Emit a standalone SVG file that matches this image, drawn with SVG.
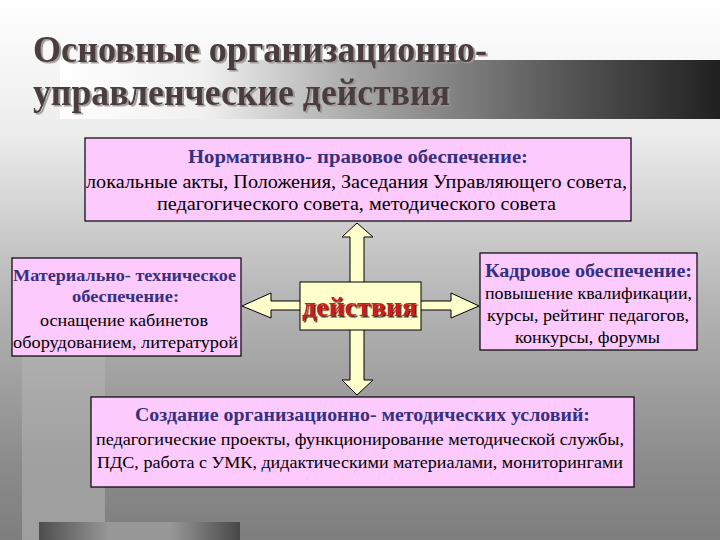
<svg xmlns="http://www.w3.org/2000/svg" width="720" height="540" viewBox="0 0 720 540">
<defs>
<linearGradient id="bg" x1="0" y1="0" x2="0" y2="1">
<stop offset="0" stop-color="#ffffff"/>
<stop offset="0.25" stop-color="#ececec"/>
<stop offset="0.55" stop-color="#b6b6b6"/>
<stop offset="0.85" stop-color="#8c8c8c"/>
<stop offset="1" stop-color="#7e7e7e"/>
</linearGradient>
<linearGradient id="band" x1="0" y1="0" x2="1" y2="0">
<stop offset="0" stop-color="#ffffff"/>
<stop offset="0.22" stop-color="#f0f0f0"/>
<stop offset="0.45" stop-color="#a8a8a8"/>
<stop offset="0.75" stop-color="#5a5a5a"/>
<stop offset="1" stop-color="#202020"/>
</linearGradient>
<linearGradient id="stripe" x1="0" y1="0" x2="0" y2="1">
<stop offset="0" stop-color="#ffffff" stop-opacity="0"/>
<stop offset="1" stop-color="#ffffff" stop-opacity="0.25"/>
</linearGradient>
<linearGradient id="bar" x1="0" y1="0" x2="1" y2="0">
<stop offset="0" stop-color="#4e4e4e"/>
<stop offset="0.35" stop-color="#989898"/>
<stop offset="0.65" stop-color="#989898"/>
<stop offset="1" stop-color="#484848"/>
</linearGradient>
<filter id="tsh" x="-5%" y="-20%" width="110%" height="150%">
<feDropShadow dx="2" dy="1.5" stdDeviation="0.6" flood-color="#9a9292" flood-opacity="0.9"/>
</filter>
<filter id="rsh" x="-5%" y="-20%" width="110%" height="150%">
<feDropShadow dx="1.5" dy="1.5" stdDeviation="0.3" flood-color="#3a1010" flood-opacity="0.9"/>
</filter>
</defs>
<rect x="0" y="0" width="720" height="540" fill="url(#bg)"/>
<rect x="22" y="240" width="83" height="300" fill="url(#stripe)"/>
<rect x="60" y="60" width="660" height="59" fill="url(#band)"/>
<rect x="39" y="522" width="201" height="18" fill="url(#bar)"/>
<g id="title" font-weight="bold" font-size="37" filter="url(#tsh)" fill="#4a3d3d">
<text x="33" y="62" font-family="Liberation Serif" textLength="454" lengthAdjust="spacingAndGlyphs">Основные организационно-</text>
<text x="33" y="105" font-family="Liberation Serif" textLength="417" lengthAdjust="spacingAndGlyphs">управленческие действия</text>
</g>
<g id="connectors">
<path d="M357,223 L373,237 L364,237 L364,301 L451,301 L451,293 L479,306 L451,318 L451,310 L364,310 L364,380 L373,380 L357,395 L342,380 L350,380 L350,310 L271,310 L271,318 L242,306 L271,293 L271,301 L350,301 L350,237 L342,237 Z" fill="#ffffcc" stroke="#000" stroke-width="1"/>
</g>
<g id="node-top">
<rect x="85" y="138" width="546" height="83" fill="#fdcafd" stroke="#000" stroke-width="1.2"/>
<text x="188" y="163" font-size="18" font-weight="bold" fill="#36307f" font-family="Liberation Serif" textLength="340" lengthAdjust="spacingAndGlyphs">Нормативно- правовое обеспечение:</text>
<text x="86" y="188" font-size="18" fill="#000" font-family="Liberation Serif" textLength="541" lengthAdjust="spacingAndGlyphs">локальные акты, Положения, Заседания Управляющего совета,</text>
<text x="157" y="210" font-size="18" fill="#000" font-family="Liberation Serif" textLength="399" lengthAdjust="spacingAndGlyphs">педагогического совета, методического совета</text>
</g>
<g id="node-left">
<rect x="12" y="258" width="229" height="98" fill="#fdcafd" stroke="#000" stroke-width="1.2"/>
<text x="13" y="281" font-size="17" font-weight="bold" fill="#36307f" font-family="Liberation Serif" textLength="223" lengthAdjust="spacingAndGlyphs">Материально- техническое</text>
<text x="72" y="302" font-size="17" font-weight="bold" fill="#36307f" font-family="Liberation Serif" textLength="107" lengthAdjust="spacingAndGlyphs">обеспечение:</text>
<text x="40" y="326" font-size="17" fill="#000" font-family="Liberation Serif" textLength="168" lengthAdjust="spacingAndGlyphs">оснащение кабинетов</text>
<text x="13" y="348" font-size="17" fill="#000" font-family="Liberation Serif" textLength="225" lengthAdjust="spacingAndGlyphs">оборудованием, литературой</text>
</g>
<g id="node-right">
<rect x="480" y="253" width="217" height="97" fill="#fdcafd" stroke="#000" stroke-width="1.2"/>
<text x="485" y="277" font-size="18" font-weight="bold" fill="#36307f" font-family="Liberation Serif" textLength="207" lengthAdjust="spacingAndGlyphs">Кадровое обеспечение:</text>
<text x="485" y="299" font-size="17" fill="#000" font-family="Liberation Serif" textLength="207" lengthAdjust="spacingAndGlyphs">повышение квалификации,</text>
<text x="487" y="321" font-size="17" fill="#000" font-family="Liberation Serif" textLength="202" lengthAdjust="spacingAndGlyphs">курсы, рейтинг педагогов,</text>
<text x="515" y="343" font-size="17" fill="#000" font-family="Liberation Serif" textLength="145" lengthAdjust="spacingAndGlyphs">конкурсы, форумы</text>
</g>
<g id="node-bottom">
<rect x="91" y="397" width="543" height="90" fill="#fdcafd" stroke="#000" stroke-width="1.2"/>
<text x="135" y="421" font-size="18" font-weight="bold" fill="#36307f" font-family="Liberation Serif" textLength="455" lengthAdjust="spacingAndGlyphs">Создание организационно- методических условий:</text>
<text x="96" y="445" font-size="17" fill="#000" font-family="Liberation Serif" textLength="528" lengthAdjust="spacingAndGlyphs">педагогические проекты, функционирование методической службы,</text>
<text x="97" y="468" font-size="17" fill="#000" font-family="Liberation Serif" textLength="526" lengthAdjust="spacingAndGlyphs">ПДС, работа с УМК, дидактическими материалами, мониторингами</text>
</g>
<g id="node-center">
<rect x="300" y="282" width="121" height="48" fill="#ffffcc" stroke="#000" stroke-width="1"/>
<text x="302" y="316" font-weight="bold" font-size="27" fill="#cc1f1f" filter="url(#rsh)" font-family="Liberation Serif" textLength="115" lengthAdjust="spacingAndGlyphs">действия</text>
</g>
</svg>
